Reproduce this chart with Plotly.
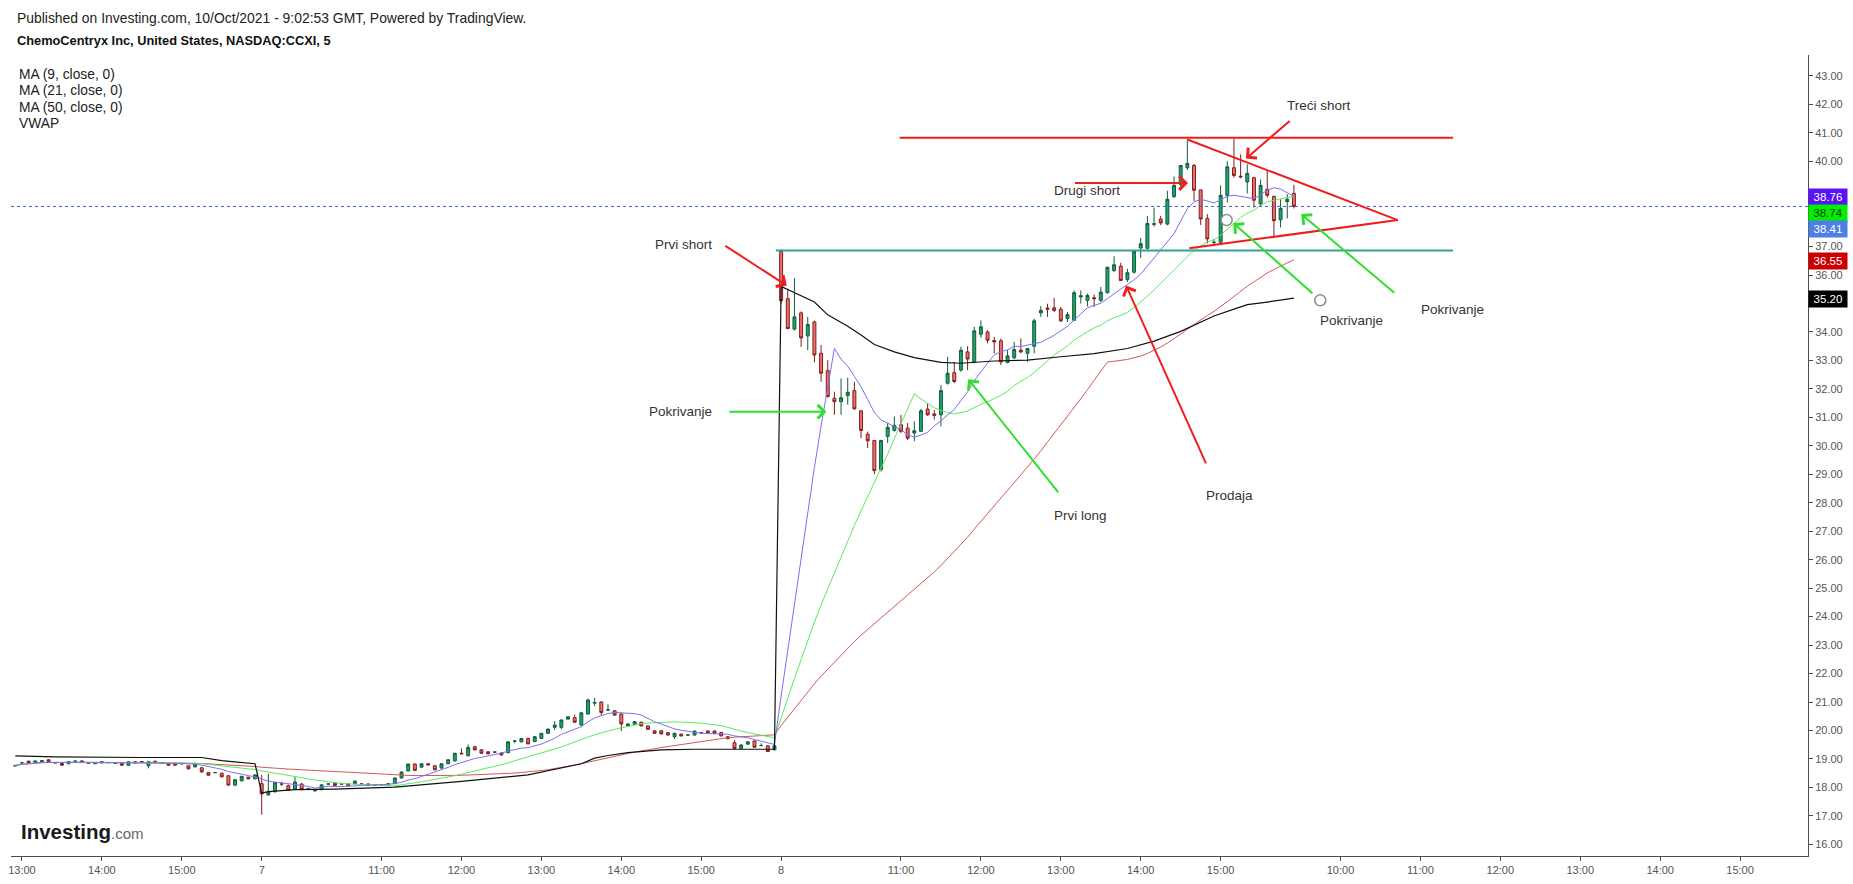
import plotly.graph_objects as go
import pandas as pd

# ---------------- data (5-min bars, NASDAQ:CCXI) ----------------
# Day 6 Oct, 12:55-15:55
d6_open  = [18.75,18.86,18.92,18.86,18.90,18.97,18.87,18.84,18.83,18.92,18.93,18.85,18.83,18.86,18.87,18.85,18.84,18.78,18.90,18.91,
            18.76,18.92,18.85,18.84,18.85,18.83,18.76,18.72,18.69,18.52,18.52,18.50,18.41,18.08,18.23,18.36,18.30]
d6_high  = [18.78,18.90,18.94,18.94,18.95,18.98,18.89,18.85,18.92,18.94,18.95,18.87,18.87,18.91,18.89,18.87,18.85,18.91,18.91,18.92,
            18.91,18.93,18.86,18.85,18.86,18.84,18.77,18.83,18.70,18.53,18.54,18.51,18.42,18.28,18.40,18.37,18.45]
d6_low   = [18.74,18.82,18.85,18.85,18.89,18.89,18.85,18.76,18.82,18.91,18.88,18.84,18.82,18.85,18.86,18.84,18.77,18.77,18.85,18.88,
            18.67,18.86,18.84,18.77,18.77,18.82,18.64,18.71,18.50,18.41,18.50,18.36,18.07,18.04,18.22,18.29,18.29]
d6_close = [18.77,18.86,18.86,18.93,18.94,18.90,18.86,18.78,18.91,18.92,18.89,18.85,18.86,18.90,18.87,18.85,18.78,18.90,18.86,18.89,
            18.90,18.87,18.85,18.78,18.78,18.83,18.65,18.82,18.55,18.43,18.52,18.37,18.08,18.27,18.39,18.30,18.44]

# Day 7 Oct, 09:30-15:55
d7_open  = [18.13,17.74,17.86,18.12,18.06,17.94,18.12,17.95,17.88,17.92,18.12,18.15,18.12,18.12,18.13,18.12,18.12,18.07,18.08,18.12,
            18.13,18.33,18.58,18.82,18.71,18.83,18.76,18.68,18.83,18.93,19.20,19.11,19.43,19.32,19.25,19.24,19.21,19.22,19.63,19.60,
            19.72,19.61,19.72,19.90,20.11,20.11,20.40,20.45,20.19,20.58,20.96,21.00,20.72,20.69,20.58,20.16,20.22,20.29,20.16,19.99,
            19.99,19.92,19.78,19.87,19.84,19.84,19.92,19.98,19.98,19.93,19.78,19.57,19.37,19.52,19.63,19.47,19.46,19.32]
d7_high  = [18.44,18.48,18.20,18.20,18.10,18.38,18.15,17.98,17.92,18.10,18.14,18.18,18.14,18.15,18.24,18.14,18.14,18.09,18.10,18.14,
            18.34,18.55,18.83,18.84,18.84,18.86,18.78,18.84,18.98,19.21,19.37,19.51,19.46,19.34,19.27,19.27,19.23,19.61,19.66,19.73,
            19.74,19.80,19.91,20.06,20.33,20.38,20.49,20.56,20.63,21.12,21.15,21.02,20.92,20.71,20.60,20.25,20.33,20.31,20.18,20.01,
            20.01,19.94,19.92,19.89,19.86,19.99,19.95,20.00,20.00,19.95,19.80,19.66,19.51,19.62,19.65,19.55,19.48,19.48]
d7_low   = [17.04,17.70,17.80,18.05,17.88,17.92,17.90,17.92,17.85,17.90,18.08,18.05,18.09,18.04,18.10,18.10,18.05,18.05,18.06,18.09,
            18.12,18.32,18.56,18.57,18.70,18.78,18.60,18.66,18.82,18.92,19.17,19.09,19.30,19.18,19.16,19.21,19.12,19.20,19.55,19.58,
            19.51,19.59,19.70,19.88,20.02,20.04,20.38,20.27,20.17,20.56,20.85,20.52,20.70,20.52,19.98,20.14,20.20,20.14,20.02,19.88,
            19.86,19.82,19.70,19.79,19.82,19.82,19.90,19.91,19.88,19.79,19.69,19.33,19.35,19.50,19.39,19.45,19.24,19.30]
d7_close = [17.77,17.85,18.17,18.12,17.90,18.19,17.92,17.95,17.89,18.09,18.12,18.07,18.12,18.06,18.22,18.12,18.07,18.07,18.08,18.12,
            18.33,18.54,18.82,18.60,18.83,18.79,18.62,18.83,18.97,19.20,19.18,19.40,19.32,19.20,19.18,19.24,19.14,19.60,19.63,19.72,
            19.53,19.78,19.90,20.05,20.19,20.37,20.48,20.29,20.62,21.07,20.98,20.63,20.72,20.54,20.23,20.23,20.31,20.16,20.04,19.90,
            19.88,19.84,19.90,19.81,19.84,19.98,19.92,19.93,19.90,19.81,19.71,19.37,19.49,19.60,19.41,19.47,19.26,19.46]

# Day 8 Oct, 09:30-15:55
d8_open  = [36.83,35.17,34.10,34.67,33.86,34.35,33.25,32.64,31.67,31.55,31.76,31.94,31.23,30.41,30.19,29.17,30.33,30.54,30.74,30.62,
            30.45,30.51,31.29,31.12,31.09,32.20,32.57,32.66,33.30,32.93,33.92,34.00,33.70,33.69,32.93,33.09,33.36,33.25,33.50,34.67,
            34.84,34.85,34.80,34.47,34.41,35.23,35.11,35.20,35.11,35.38,36.16,36.31,35.84,36.10,36.95,36.94,37.78,37.97,37.79,38.76,
            39.19,39.77,39.85,38.99,37.99,37.14,37.15,38.80,39.77,39.47,39.27,39.42,38.50,39.01,38.76,37.94,38.58,38.87]
d8_high  = [36.90,35.52,35.89,34.72,34.53,34.40,33.54,33.01,31.90,32.37,32.39,32.25,31.25,30.50,30.20,30.20,30.80,31.03,31.09,30.80,
            30.86,31.30,31.50,31.26,32.14,33.13,32.95,33.48,33.50,34.18,34.41,34.06,33.83,33.77,33.36,33.65,33.77,33.42,34.47,34.91,
            34.99,35.20,34.88,34.70,35.46,35.46,35.35,35.32,35.58,36.30,36.66,36.43,36.22,36.85,37.30,38.08,38.37,38.08,38.96,39.46,
            39.85,40.76,39.90,39.00,38.14,37.27,39.15,40.00,40.79,40.24,39.89,39.45,39.36,39.69,38.80,38.66,38.84,39.17]
d8_low   = [35.00,34.10,34.05,33.48,33.36,32.93,32.25,31.70,31.09,31.09,31.44,31.27,30.27,29.92,29.00,29.10,30.10,30.50,30.45,30.20,
            30.16,30.50,31.05,30.92,30.68,32.15,32.20,32.60,32.66,32.90,33.80,33.60,33.25,32.84,32.90,33.05,33.25,32.95,33.25,34.53,
            34.53,34.70,34.35,34.35,34.38,35.00,34.90,34.88,35.05,35.35,36.10,35.81,35.75,36.05,36.60,36.90,37.70,37.75,37.75,38.70,
            39.00,39.69,38.60,37.76,37.11,37.05,37.10,38.55,39.42,39.40,38.87,38.37,38.41,38.72,37.32,37.67,37.99,38.34]
d8_close = [35.10,34.12,34.53,33.79,34.26,33.19,32.55,31.73,31.55,31.69,31.88,31.30,30.54,30.18,29.13,30.19,30.65,30.72,30.51,30.27,
            30.53,31.23,31.09,31.07,31.94,32.55,32.26,33.36,33.05,34.04,34.18,33.71,33.65,32.95,33.16,33.38,33.30,33.42,34.39,34.76,
            34.80,34.76,34.39,34.61,35.38,35.27,35.28,35.17,35.40,36.27,36.36,35.81,36.08,36.83,37.10,37.81,37.80,37.83,38.66,39.15,
            39.85,39.92,38.98,37.97,37.27,37.15,38.80,39.80,39.50,39.45,39.57,38.63,39.15,38.80,37.91,38.34,38.66,38.41]

# VWAP readings (bar index, value)
vwap_bar = [0, 6, 19, 28, 31, 33, 36,
            37, 38, 42, 48, 57, 67, 77, 82, 85, 87, 89, 92, 97, 102, 114,
            115, 117, 120, 122, 125, 127, 129, 132, 135, 139, 142, 147, 152, 157, 162, 167, 171, 175, 178, 180, 183, 185, 188, 192]
vwap_val = [19.11, 19.07, 19.05, 19.05, 18.94, 18.90, 18.83,
            17.80, 17.85, 17.92, 17.94, 18.01, 18.21, 18.44, 18.68, 18.83, 19.03, 19.12, 19.22, 19.32, 19.34, 19.34,
            35.60, 35.38, 35.05, 34.60, 34.20, 33.89, 33.56, 33.30, 33.10, 32.93, 32.90, 32.98, 33.01, 33.13, 33.24, 33.42,
            33.68, 34.02, 34.35, 34.56, 34.80, 34.96, 35.05, 35.19]

tick_bars   = [1, 13, 25, 37, 55, 67, 79, 91, 103, 115, 133, 145, 157, 169, 181, 199, 211, 223, 235, 247, 259]
tick_labels = ["13:00", "14:00", "15:00", "7", "11:00", "12:00", "13:00", "14:00", "15:00", "8",
               "11:00", "12:00", "13:00", "14:00", "15:00", "10:00", "11:00", "12:00", "13:00", "14:00", "15:00"]

# price-axis ticks (those hidden under value labels are left out)
price_ticks = [16, 17, 18, 19, 20, 21, 22, 23, 24, 25, 26, 27, 28, 29, 30, 31, 32, 33, 34, 36, 37, 40, 41, 42, 43]

last_labels = [("38.76", 38.734, "#5a12f2", "white"),
               ("38.74", 38.185, "#00f000", "#1a3a1a"),
               ("38.41", 37.626, "#4f7fe3", "white"),
               ("36.55", 36.507, "#cc0000", "white"),
               ("35.20", 35.168, "#000000", "white")]

# ---------------- build ----------------
opens = d6_open + d7_open + d8_open
highs = d6_high + d7_high + d8_high
lows = d6_low + d7_low + d8_low
closes = d6_close + d7_close + d8_close
bars = list(range(len(closes)))

cs = pd.Series(closes)
ma9 = cs.rolling(9, min_periods=1).mean()
ma21 = cs.rolling(21, min_periods=1).mean()
ma50 = cs.rolling(50, min_periods=1).mean()

FONT = "Liberation Sans, Arial, sans-serif"
fig = go.Figure()

fig.add_trace(go.Candlestick(
    x=bars, open=opens, high=highs, low=lows, close=closes,
    increasing=dict(fillcolor="#1fa16a", line=dict(color="#135c3d", width=1)),
    decreasing=dict(fillcolor="#ef6f6a", line=dict(color="#7d1f1f", width=1)),
    whiskerwidth=0, hoverinfo="skip"))

fig.add_trace(go.Scatter(x=bars, y=ma50, mode="lines", line=dict(color="#d05a5a", width=1), hoverinfo="skip"))
fig.add_trace(go.Scatter(x=bars, y=ma21, mode="lines", line=dict(color="#5ee85e", width=1), hoverinfo="skip"))
fig.add_trace(go.Scatter(x=bars, y=ma9, mode="lines", line=dict(color="#7d6ef0", width=1), hoverinfo="skip"))
fig.add_trace(go.Scatter(x=vwap_bar, y=vwap_val, mode="lines", line=dict(color="#111111", width=1.2), hoverinfo="skip"))

# circles
fig.add_trace(go.Scatter(x=[181.9, 195.96], y=[37.93, 35.11], mode="markers",
                         marker=dict(size=11, color="white", line=dict(color="#8c8c8c", width=1.5)),
                         hoverinfo="skip"))

shapes = [
    dict(type="line", xref="paper", x0=0, x1=1, yref="y", y0=38.41, y1=38.41,
         line=dict(color="#3c64b4", width=1, dash="dot")),
    dict(type="line", xref="x", yref="y", x0=132.8, x1=215.9, y0=40.82, y1=40.82,
         line=dict(color="#ee1c1c", width=2)),
    dict(type="line", xref="x", yref="y", x0=114.2, x1=215.9, y0=36.86, y1=36.86,
         line=dict(color="#35a096", width=2)),
    dict(type="line", xref="x", yref="y", x0=176.0, x1=207.6, y0=40.76, y1=37.93,
         line=dict(color="#ee1c1c", width=2)),
    dict(type="line", xref="x", yref="y", x0=176.3, x1=207.6, y0=36.94, y1=37.93,
         line=dict(color="#ee1c1c", width=2)),
]

annotations = []
RED = "#f01e1e"
GREEN = "#2ee02e"
arrows = [
    # (tail_x, tail_y, head_x, head_y, color)
    (106.4, 37.06, 115.85, 35.63, RED),     # Prvi short
    (107.0, 31.20, 121.8, 31.20, GREEN),    # Pokrivanje left
    (156.8, 28.31, 143.1, 32.34, GREEN),    # Prvi long
    (178.9, 29.33, 166.8, 35.63, RED),      # Prodaja
    (158.9, 39.23, 176.1, 39.23, RED),      # Drugi short
    (191.6, 41.46, 184.8, 40.09, RED),      # Treci short
    (207.3, 35.33, 193.1, 38.14, GREEN),    # Pokrivanje right
    (195.0, 35.31, 182.9, 37.83, GREEN),    # Pokrivanje circle
]
for tx, ty, hx, hy, col in arrows:
    annotations.append(dict(x=hx, y=hy, ax=tx, ay=ty, xref="x", yref="y", axref="x", ayref="y",
                            text="", showarrow=True, arrowhead=4, arrowsize=1.3, arrowwidth=2,
                            arrowcolor=col, standoff=0, startstandoff=0))

labels = [
    ("Prvi short", 100.4, 37.06),
    ("Pokrivanje", 99.9, 31.19),
    ("Prvi long", 159.9, 27.56),
    ("Prodaja", 182.4, 28.26),
    ("Drugi short", 161.0, 38.96),
    ("Treći short", 195.7, 41.94),
    ("Pokrivanje", 215.8, 34.78),
    ("Pokrivanje", 200.7, 34.42),
]
for t, x, y in labels:
    annotations.append(dict(x=x, y=y, xref="x", yref="y", text=t, showarrow=False,
                            font=dict(family=FONT, size=13.5, color="#333333")))

# header texts
annotations += [
    dict(xref="paper", yref="paper", x=0.0022, y=1.0463, xanchor="left", yanchor="middle", showarrow=False,
         text="Published on Investing.com, 10/Oct/2021 - 9:02:53 GMT, Powered by TradingView.",
         font=dict(family=FONT, size=13.9, color="#222222")),
    dict(xref="paper", yref="paper", x=0.0022, y=1.0184, xanchor="left", yanchor="middle", showarrow=False,
         text="<b>ChemoCentryx Inc, United States, NASDAQ:CCXI, 5</b>",
         font=dict(family=FONT, size=12.8, color="#111111")),
]
for j, t in enumerate(["MA (9, close, 0)", "MA (21, close, 0)", "MA (50, close, 0)", "VWAP"]):
    annotations.append(dict(xref="paper", yref="paper", x=0.0033, y=[0.976, 0.9556, 0.935, 0.9143][j],
                            xanchor="left", yanchor="middle", showarrow=False, text=t,
                            font=dict(family=FONT, size=13.8, color="#222222")))

# logo
annotations.append(dict(xref="paper", yref="paper", x=0.0045, y=0.031, xanchor="left", yanchor="middle",
                        showarrow=False,
                        text="<b>Investing</b><span style='font-size:15px;color:#666666'>.com</span>",
                        font=dict(family=FONT, size=20.5, color="#1a1a1a")))

# right-axis value labels
for txt, yv, bg, fc in last_labels:
    annotations.append(dict(xref="paper", yref="y", x=1.0, y=yv, xanchor="left", yanchor="middle",
                            showarrow=False, text=txt, bgcolor=bg, width=36, height=14, borderpad=1,
                            align="center", font=dict(family=FONT, size=11.5, color=fc)))

fig.update_layout(
    width=1853, height=884,
    margin=dict(l=8, r=45, t=55, b=24),
    paper_bgcolor="white", plot_bgcolor="white",
    showlegend=False, boxgap=0.37,
    shapes=shapes, annotations=annotations,
    font=dict(family=FONT),
    xaxis=dict(range=[-0.645, 269.2], rangeslider=dict(visible=False), showgrid=False, zeroline=False,
               showline=True, linecolor="#4d4d4d", linewidth=1, ticks="outside", ticklen=4,
               tickcolor="#4d4d4d", tickvals=tick_bars, ticktext=tick_labels,
               tickfont=dict(family=FONT, size=11, color="#555555")),
    yaxis=dict(side="right", range=[15.59, 43.73], tickvals=price_ticks,
               ticktext=[f"{v:.2f}" for v in price_ticks],
               showgrid=False, zeroline=False, showline=True, linecolor="#4d4d4d", linewidth=1,
               ticks="outside", ticklen=4, tickcolor="#4d4d4d",
               tickfont=dict(family=FONT, size=11, color="#555555")),
)

fig.write_html("out.html", config={"displayModeBar": False},
               post_script="document.body.style.margin='0';document.body.style.overflow='hidden';")
